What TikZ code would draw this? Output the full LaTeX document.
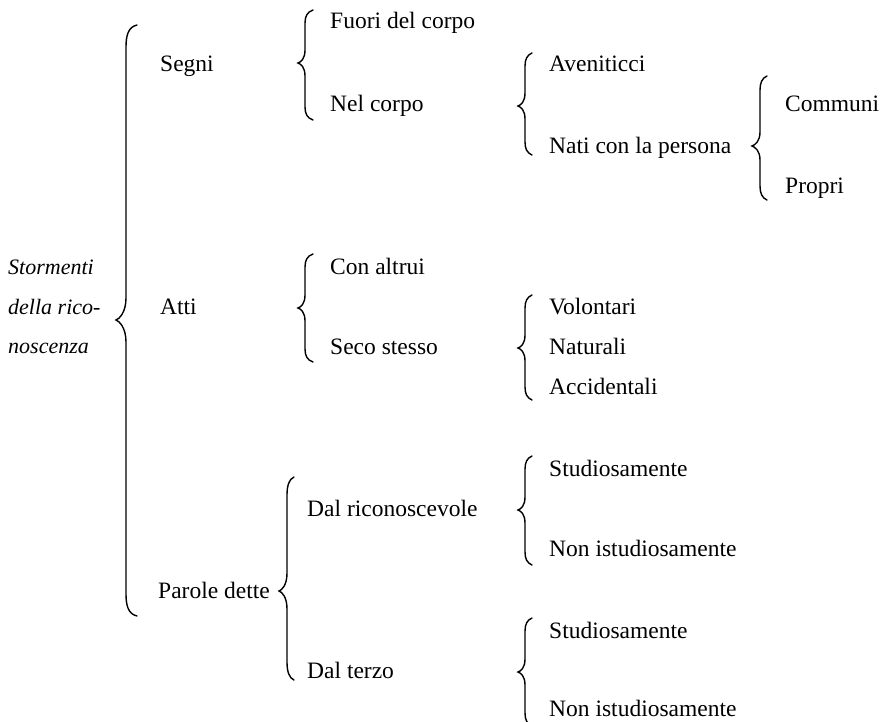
\documentclass[tikz,border=0pt]{standalone}
\usepackage{fontspec}
\setmainfont{Liberation Serif}
\begin{document}
\begin{tikzpicture}[x=1pt,y=-1pt,
  lbl/.style={anchor=base west,inner sep=0pt,font=\fontsize{23.5}{28}\selectfont},
  ilbl/.style={lbl,font=\fontsize{22}{26}\selectfont\itshape},
  bracepath/.style={line width=1.4pt,line cap=round,black}]
\useasboundingbox (0,0) rectangle (888,721);
% #1 cusp x, #2 line x, #3 hook x, #4 top y, #5 cusp y, #6 bottom y, #7 hook length
\newcommand\curlybrace[7]{%
  \draw[bracepath] (#3,#4) .. controls (#2+2,#4+2) and (#2,#4+#7/2) .. (#2,#4+#7)
    -- (#2,#5-#7) .. controls (#2,#5-#7/3) and (#1+3,#5-1) .. (#1,#5)
    .. controls (#1+3,#5+1) and (#2,#5+#7/3) .. (#2,#5+#7)
    -- (#2,#6-#7) .. controls (#2,#6-#7/2) and (#2+2,#6-2) .. (#3,#6);}
% root
\node[ilbl] (st1) at (8,274) {Stormenti};
\node[ilbl] (st2) at (8,314) {della rico-};
\node[ilbl] (st3) at (8,353) {noscenza};
\curlybrace{116}{126}{137}{25}{320}{616}{22}
% level 1
\node[lbl] (segni) at (160,71) {Segni};
\node[lbl] (atti) at (160,314) {Atti};
\node[lbl] (parole) at (158,598) {Parole dette};
% Segni
\curlybrace{298}{305}{313}{10}{63}{120}{13}
\node[lbl] (fuori) at (330,28) {Fuori del corpo};
\node[lbl] (nel) at (330,111) {Nel corpo};
\curlybrace{518}{525}{532}{53}{106}{155}{13}
\node[lbl] (aven) at (549,71) {Aveniticci};
\node[lbl] (nati) at (549,153) {Nati con la persona};
\curlybrace{752}{760}{767}{76}{146}{200}{14}
\node[lbl] (comm) at (785,111) {Communi};
\node[lbl] (propri) at (785,193) {Propri};
% Atti
\curlybrace{298}{305}{313}{254}{308}{362}{13}
\node[lbl] (con) at (330,274) {Con altrui};
\node[lbl] (seco) at (330,354) {Seco stesso};
\curlybrace{518}{525}{532}{295}{348}{400}{13}
\node[lbl] (vol) at (549,314) {Volontari};
\node[lbl] (nat) at (549,354) {Naturali};
\node[lbl] (acc) at (549,394) {Accidentali};
% Parole dette
\curlybrace{279}{287}{294}{477}{591}{680}{18}
\node[lbl] (dalr) at (307,516) {Dal riconoscevole};
\node[lbl] (dalt) at (307,678) {Dal terzo};
\curlybrace{518}{525}{532}{456}{510}{565}{13}
\node[lbl] (stu1) at (549,476) {Studiosamente};
\node[lbl] (non1) at (549,556) {Non istudiosamente};
\curlybrace{518}{525}{532}{618}{672}{726}{13}
\node[lbl] (stu2) at (549,638) {Studiosamente};
\node[lbl] (non2) at (549,716) {Non istudiosamente};
\end{tikzpicture}
\end{document}
